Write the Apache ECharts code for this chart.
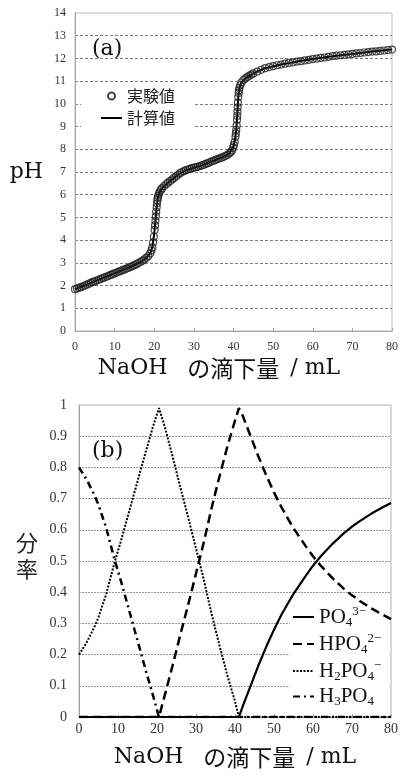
<!DOCTYPE html>
<html><head><meta charset="utf-8">
<script src="https://cdn.jsdelivr.net/npm/echarts@6/dist/echarts.min.js"></script>
<style>html,body{margin:0;padding:0;background:#fff}#c{width:401px;height:776px}</style>
</head><body><div id="c"></div>
<script>
// ---- (a) titration curve ----
const expVol = [0,0.5,1,1.5,2,2.5,3,3.5,4,4.5,
 5,5.5,6,6.5,7,7.5,8,8.5,9,9.5,
 10,10.5,11,11.5,12,12.5,13,13.5,14,14.5,
 15,15.5,16,16.5,17,17.5,18,18.5,19,19.3,
 19.5,19.7,19.9,20.1,20.2,20.3,20.4,20.5,20.6,20.7,
 20.8,20.9,21,21.2,21.4,21.7,22,22.5,23,23.5,
 24,24.5,25,25.5,26,26.5,27,27.5,28,28.5,
 29,29.5,30,30.5,31,31.5,32,32.5,33,33.5,
 34,34.5,35,35.5,36,36.5,37,37.5,38,38.5,
 39,39.3,39.6,39.9,40.1,40.3,40.5,40.6,40.7,40.8,
 40.9,40.95,41,41.05,41.1,41.2,41.3,41.4,41.5,41.7,42,42.5,
 43,43.5,44,44.5,45,46,47,48,49,50,
 51,52,53,54,55,56,57,58,59,60,
 61,62,63,64,65,66,67,68,69,70,
 71,72,73,74,75,76,77,78,79,80];
const expPH = [1.84,1.87,1.90,1.93,1.97,2.00,2.04,2.08,2.12,2.16,
 2.19,2.22,2.26,2.29,2.33,2.36,2.40,2.43,2.47,2.50,
 2.54,2.57,2.61,2.64,2.68,2.71,2.75,2.78,2.82,2.86,
 2.90,2.94,2.99,3.04,3.09,3.15,3.22,3.30,3.42,3.55,
 3.68,3.90,4.15,4.45,4.65,4.85,5.05,5.25,5.45,5.62,
 5.76,5.86,5.95,6.05,6.13,6.22,6.29,6.38,6.46,6.53,
 6.60,6.67,6.74,6.81,6.88,6.95,7.00,7.04,7.08,7.11,
 7.14,7.17,7.19,7.21,7.23,7.26,7.29,7.32,7.36,7.39,
 7.43,7.47,7.50,7.54,7.57,7.60,7.63,7.67,7.71,7.76,
 7.82,7.87,7.95,8.07,8.18,8.32,8.55,8.70,8.86,9.05,
 9.30,9.47,9.65,9.85,10.05,10.30,10.48,10.60,10.70,10.82,10.94,11.05,
 11.12,11.18,11.24,11.29,11.34,11.42,11.50,11.57,11.62,11.66,
 11.70,11.73,11.77,11.80,11.83,11.86,11.88,11.91,11.94,11.97,
 11.99,12.02,12.04,12.07,12.10,12.12,12.14,12.16,12.18,12.20,
 12.22,12.24,12.26,12.28,12.30,12.31,12.33,12.35,12.37,12.39];
const calcVol = [0,2,4,6,8,10,12,14,16,17,18,19,19.5,20,20.3,20.6,21,21.5,22,24,
 26,28,30,32,34,36,38,39,39.5,40,40.4,40.7,41,41.2,41.5,42,43,45,48,52,56,60,65,70,75,80];
const calcPH = [1.84,1.97,2.12,2.26,2.40,2.54,2.68,2.82,2.99,3.09,3.22,3.42,3.68,4.30,4.85,5.45,5.95,6.17,6.29,6.60,
 6.88,7.08,7.19,7.29,7.43,7.57,7.71,7.82,7.90,8.12,8.45,8.86,9.65,10.30,10.70,10.94,11.12,11.34,11.57,11.73,11.86,11.97,12.10,12.20,12.30,12.39];

// ---- (b) species fractions ----
const fracVol = [0,2,4,5,7,9,11,13,15,17,19,20.5,22,24,26,28,30,32,34,36,38,40,41,42,44,46,48,50,52,55,58,60,62,65,68,70,72,75,78,80];
const fracPO4 = [0,0,0,0,0,0,0,0,0,0,0,0,0,0,0,0,0,0,0,0,0,0,0,
 0.035,0.10,0.165,0.225,0.28,0.33,0.395,0.45,0.485,0.515,0.555,0.59,0.61,0.628,0.652,0.673,0.686];
const fracHPO4 = [0,0,0,0,0,0,0,0,0,0,0,0,
 0.07,0.165,0.265,0.36,0.46,0.56,0.67,0.77,0.865,0.95,0.99,
 0.965,0.90,0.835,0.775,0.72,0.67,0.605,0.55,0.515,0.485,0.445,0.41,0.39,0.372,0.348,0.327,0.314];
const fracH2PO4 = [0.20,0.24,0.29,0.32,0.395,0.49,0.575,0.665,0.755,0.845,0.932,0.99,
 0.93,0.835,0.735,0.64,0.54,0.44,0.33,0.23,0.135,0.05,0,
 0,0,0,0,0,0,0,0,0,0,0,0,0,0,0,0,0];
const fracH3PO4 = [0.80,0.76,0.71,0.68,0.605,0.51,0.425,0.335,0.245,0.155,0.068,0,
 0,0,0,0,0,0,0,0,0,0,0,
 0,0,0,0,0,0,0,0,0,0,0,0,0,0,0,0,0];

const speciesNames = ['PO₄³⁻','HPO₄²⁻','H₂PO₄⁻','H₃PO₄'];
const speciesRich = ['{m|PO}{sub|4}{sup|3−}','{m|HPO}{sub|4}{sup|2−}','{m|H}{sub|2}{m|PO}{sub|4}{sup|−}','{m|H}{sub|3}{m|PO}{sub|4}'];
const xTitleRich = '{w|NaOH }{j|の滴下量}{w| / mL}';
const yTitleRich = '{n|分}\n{n|率}';

const pair = (xs, ys) => xs.map((x, i) => [x, ys[i]]);
const serif = '"Liberation Serif","Noto Sans CJK JP",serif';
const wide = '"DejaVu Serif","Liberation Serif",serif';
const cjk = '"Noto Sans CJK JP","Noto Sans",sans-serif';

const chart = echarts.init(document.getElementById('c'));
const axisGray = '#a6a6a6';
const nameRich = {
  w: {fontFamily: wide, fontSize: 22, color: '#111'},
  j: {fontFamily: cjk, fontSize: 23, color: '#111', padding: [0, 4, 0, 13]}
};

function xAxisCfg(idx, opts) {
  return Object.assign({
    gridIndex: idx, type: 'value', min: 0, max: 80, interval: 10,
    axisLine: {show: true, lineStyle: {color: axisGray, width: 1}},
    axisTick: {show: true, inside: true, length: 3, lineStyle: {color: axisGray}},
    splitLine: {show: false},
    name: xTitleRich, nameLocation: 'middle'
  }, opts);
}

const option = {
  animation: false,
  backgroundColor: '#fff',
  title: [
    {text: '(a)', left: 92, top: 38, padding: 0, textStyle: {fontFamily: wide, fontSize: 22, fontWeight: 'normal', color: '#111'}},
    {text: '(b)', left: 92, top: 440, padding: 0, textStyle: {fontFamily: wide, fontSize: 22, fontWeight: 'normal', color: '#111'}}
  ],
  grid: [
    {left: 75, right: 8, top: 13, height: 318, show: true, borderColor: '#bdbdbd', borderWidth: 1, backgroundColor: 'transparent'},
    {left: 79, right: 7, top: 405, height: 312, show: true, borderColor: '#b0b0b0', borderWidth: 1, backgroundColor: 'transparent'}
  ],
  xAxis: [
    xAxisCfg(0, {
      axisLabel: {fontFamily: serif, fontSize: 12, color: '#333', margin: 10},
      nameGap: 26,
      nameTextStyle: {fontFamily: wide, fontSize: 22, color: '#111', padding: [0, 29, 0, 0], rich: nameRich}
    }),
    xAxisCfg(1, {
      axisLabel: {fontFamily: serif, fontSize: 14, color: '#333', margin: 5},
      nameGap: 29,
      nameTextStyle: {fontFamily: wide, fontSize: 22, color: '#111', rich: nameRich}
    })
  ],
  yAxis: [
    {
      gridIndex: 0, type: 'value', min: 0, max: 14, interval: 1,
      axisLine: {show: true, lineStyle: {color: axisGray}},
      axisTick: {show: false},
      axisLabel: {fontFamily: serif, fontSize: 12, color: '#333', margin: 9},
      splitLine: {show: true, showMinLine: false, showMaxLine: false, lineStyle: {color: '#7d7d7d', type: [3, 2], width: 1}},
      name: 'pH', nameLocation: 'middle', nameRotate: 0, nameGap: 32,
      nameTextStyle: {fontFamily: wide, fontSize: 22, color: '#111'}
    },
    {
      gridIndex: 1, type: 'value', min: 0, max: 1, interval: 0.1,
      axisLine: {show: true, lineStyle: {color: axisGray}},
      axisTick: {show: false},
      axisLabel: {fontFamily: serif, fontSize: 14, color: '#333', margin: 12,
        formatter: v => String(Math.round(v * 10) / 10)},
      splitLine: {show: true, showMinLine: false, showMaxLine: false, lineStyle: {color: '#9a9a9a', type: [2, 1], width: 1}},
      name: yTitleRich, nameLocation: 'middle', nameRotate: 0, nameGap: 41,
      nameTextStyle: {fontFamily: cjk, fontSize: 22, color: '#222', padding: [0, 0, 11, 0],
        rich: {n: {fontFamily: cjk, fontSize: 22, lineHeight: 26, color: '#222'}}}
    }
  ],
  legend: [
    {
      data: ['実験値', {name: '計算値', itemStyle: {opacity: 0}}], orient: 'vertical', left: 81, top: 86,
      padding: [0, 19, 8, 19], itemWidth: 21, itemHeight: 7, itemGap: 2,
      backgroundColor: '#fff', selectedMode: false,
      textStyle: {fontFamily: cjk, fontSize: 16, color: '#222', lineHeight: 20}
    },
    {
      data: speciesNames, orient: 'vertical', left: 290, top: 600,
      padding: [5, 8, 2, 2], itemWidth: 21, itemHeight: 14, itemGap: 3,
      backgroundColor: '#fff', selectedMode: false,
      itemStyle: {opacity: 0},
      formatter: name => speciesRich[speciesNames.indexOf(name)],
      textStyle: {
        fontFamily: serif, fontSize: 21, color: '#111',
        rich: {
          m: {fontFamily: serif, fontSize: 21, lineHeight: 24, color: '#111'},
          sub: {fontFamily: serif, fontSize: 13, lineHeight: 14, verticalAlign: 'bottom', color: '#111'},
          sup: {fontFamily: serif, fontSize: 13, lineHeight: 16, verticalAlign: 'top', color: '#111'}
        }
      }
    }
  ],
  series: [
    {
      name: '計算値', type: 'line', xAxisIndex: 0, yAxisIndex: 0,
      data: pair(calcVol, calcPH), symbol: 'none', smooth: false, z: 2,
      itemStyle: {color: '#000'},
      lineStyle: {color: '#000', width: 2}
    },
    {
      name: '実験値', type: 'scatter', xAxisIndex: 0, yAxisIndex: 0,
      data: pair(expVol, expPH), symbol: 'circle', symbolSize: 7, z: 3,
      itemStyle: {color: 'rgba(255,255,255,0)', borderColor: '#1e1e1e', borderWidth: 1.2}
    },
    {
      name: speciesNames[0], type: 'line', xAxisIndex: 1, yAxisIndex: 1,
      data: pair(fracVol, fracPO4), symbol: 'none', z: 5,
      itemStyle: {color: '#000'},
      lineStyle: {color: '#000', width: 2.2, type: 'solid'}
    },
    {
      name: speciesNames[1], type: 'line', xAxisIndex: 1, yAxisIndex: 1,
      data: pair(fracVol, fracHPO4), symbol: 'none', z: 4,
      itemStyle: {color: '#000'},
      lineStyle: {color: '#000', width: 2.5, type: [9, 5]}
    },
    {
      name: speciesNames[2], type: 'line', xAxisIndex: 1, yAxisIndex: 1,
      data: pair(fracVol, fracH2PO4), symbol: 'none', z: 3,
      itemStyle: {color: '#000'},
      lineStyle: {color: '#000', width: 2, type: [2, 1.5]}
    },
    {
      name: speciesNames[3], type: 'line', xAxisIndex: 1, yAxisIndex: 1,
      data: pair(fracVol, fracH3PO4), symbol: 'none', z: 3,
      itemStyle: {color: '#000'},
      lineStyle: {color: '#000', width: 2.5, type: [7, 4, 2, 4]}
    }
  ]
};
chart.setOption(option);
</script>
</body></html>
